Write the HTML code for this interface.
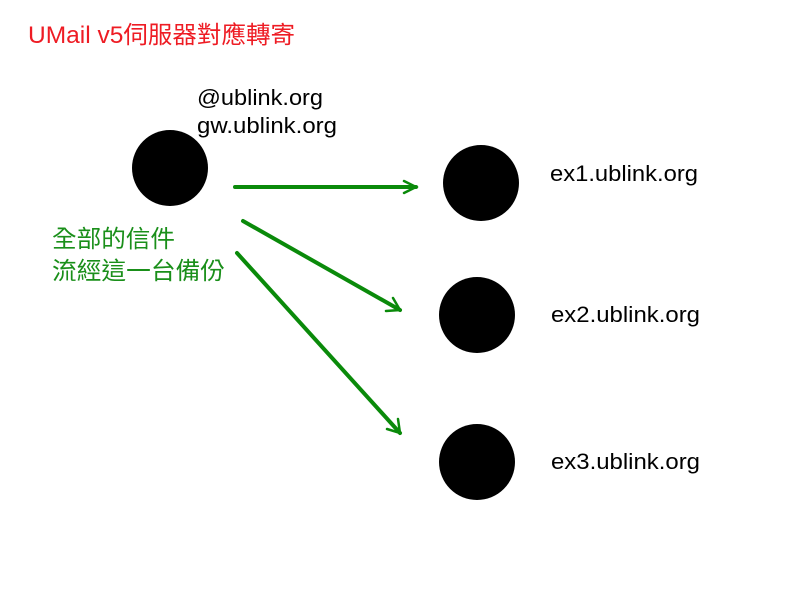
<!DOCTYPE html>
<html><head><meta charset="utf-8"><style>
body{margin:0;width:800px;height:600px;background:#fff;overflow:hidden}
</style></head><body>
<svg width="800" height="600" xmlns="http://www.w3.org/2000/svg" style="display:block">
<text x="28" y="43" font-family="Liberation Sans, Noto Sans CJK TC, sans-serif" font-size="24" fill="#ee1c24" textLength="267" lengthAdjust="spacingAndGlyphs">UMail v5伺服器對應轉寄</text>
<g font-family="Liberation Sans, sans-serif" font-size="22" fill="#000">
<text x="197" y="105" textLength="126" lengthAdjust="spacingAndGlyphs">@ublink.org</text>
<text x="197" y="133" textLength="140" lengthAdjust="spacingAndGlyphs">gw.ublink.org</text>
<text x="550" y="181" textLength="148" lengthAdjust="spacingAndGlyphs">ex1.ublink.org</text>
<text x="551" y="322" textLength="149" lengthAdjust="spacingAndGlyphs">ex2.ublink.org</text>
<text x="551" y="469" textLength="149" lengthAdjust="spacingAndGlyphs">ex3.ublink.org</text>
</g>
<g font-family="Liberation Sans, Noto Sans CJK TC, sans-serif" font-size="24" fill="#1a8f1a">
<text x="52" y="247" textLength="123" lengthAdjust="spacingAndGlyphs">全部的信件</text>
<text x="52" y="279" textLength="173" lengthAdjust="spacingAndGlyphs">流經這一台備份</text>
</g>
<circle cx="170" cy="168" r="38"/>
<circle cx="481" cy="183" r="38"/>
<circle cx="477" cy="315" r="38"/>
<circle cx="477" cy="462" r="38"/>
<g stroke="#0a8a0a" stroke-width="4" fill="none" stroke-linecap="round">
<line x1="235" y1="187" x2="416" y2="187"/>
<polyline points="404,181 416,187 404,193" stroke-width="2.5"/>
<line x1="243" y1="221" x2="400" y2="310"/>
<polyline points="386,311 400,310 393,298" stroke-width="2.5"/>
<line x1="237" y1="253" x2="400" y2="433"/>
<polyline points="387,429 400,433 398,419" stroke-width="2.5"/>
</g>
</svg>
</body></html>
